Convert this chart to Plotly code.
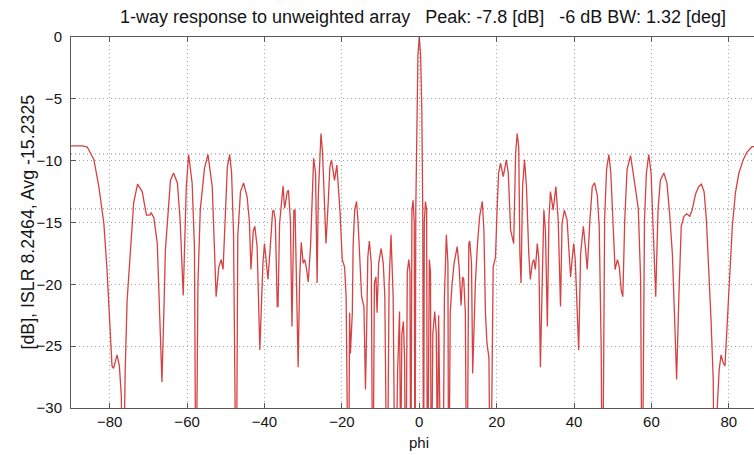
import plotly.graph_objects as go

# Angle (deg) and response (dB)
phi = [
    -90, -87, -85.8, -84.1, -82.8, -81.5, -80.7, -80.0, -79.4, -79.0, -78.1, -77.5, -77.0, -76.6,
    -76.0, -75.5, -74.6, -73.8, -72.8, -71.6, -70.5, -69.6, -69.3, -68.6, -67.7, -67.1, -66.5,
    -65.9, -65.6, -64.3, -63.5, -62.5, -61.8, -61.0, -60.2, -59.6, -58.7, -58.1, -57.7, -57.2,
    -56.6, -55.5, -54.6, -53.5, -52.9, -52.5, -51.8, -51.2, -50.7, -50.2, -49.6, -49.0, -48.5,
    -48.0, -47.3, -46.9, -46.2, -45.4, -44.5, -43.9, -43.5, -42.9, -42.5, -41.9, -41.5, -41.2,
    -40.8, -40.4, -40.0, -39.6, -39.1, -38.5, -37.9, -37.6, -37.2, -36.7, -36.5, -36.1, -35.4,
    -35.2, -34.8, -34.1, -33.8, -33.3, -32.9, -32.4, -32.1, -31.7, -31.3, -30.9, -30.5, -30.0,
    -29.6, -29.2, -28.7, -28.1, -27.5, -27.3, -26.8, -26.4, -26.1, -25.7, -25.4, -25.0, -24.5,
    -24.1, -23.5, -23.1, -22.7, -22.1, -21.9, -21.3, -20.5, -19.9, -19.3, -18.9, -18.6, -18.3,
    -18.0, -17.8, -17.3, -17.1, -16.7, -16.2, -15.8, -15.4, -14.9, -14.3, -13.9, -13.6, -13.3,
    -12.9, -12.4, -12.0, -11.6, -11.2, -10.9, -10.5, -9.85, -9.3, -8.9, -8.3, -7.8, -7.3, -6.75,
    -6.2, -5.6, -5.1, -4.8, -4.5, -4.1, -3.8, -3.5, -3.1, -2.7, -2.4, -2.2, -1.9, -1.6, -1.3,
    -1.1, -0.9, -0.66, -0.35, 0.0, 0.35, 0.66, 0.9, 1.1, 1.3, 1.6, 1.9, 2.1, 2.4, 2.6, 2.9, 3.1,
    3.5, 4.0, 4.4, 4.7, 5.0, 5.3, 5.7, 6.3, 6.5, 7.0, 7.4, 7.6, 8.0, 8.5, 9.0, 9.8, 10.3, 10.8,
    11.2, 11.5, 11.9, 12.3, 12.8, 13.05, 13.5, 13.8, 14.1, 14.5, 15.0, 15.6, 16.3, 16.7, 17.1,
    17.5, 18.0, 18.4, 19.1, 19.7, 20.1, 20.5, 21.0, 21.4, 21.7, 22.5, 23.0, 23.6, 24.0, 24.4,
    24.9, 25.3, 25.7, 26.0, 26.3, 26.7, 27.2, 27.7, 28.3, 28.7, 29.2, 29.6, 30.0, 30.5, 30.9,
    31.3, 31.8, 32.2, 32.6, 33.1, 33.5, 33.9, 34.6, 35.3, 35.9, 36.5, 36.9, 37.5, 38.2, 38.6,
    39.1, 39.5, 39.9, 40.3, 40.8, 41.2, 41.7, 42.4, 42.9, 43.4, 44.1, 44.7, 45.3, 46.0, 46.5,
    47.0, 47.35, 47.9, 48.4, 49.0, 49.5, 50.1, 50.6, 51.2, 51.7, 52.2, 52.6, 53.1, 53.7, 54.6,
    55.2, 55.8, 56.6, 57.2, 57.6, 58.2, 58.7, 59.3, 59.9, 60.6, 61.1, 61.7, 62.3, 63.2, 64.0,
    64.7, 65.4, 66.0, 66.5, 67.1, 67.7, 68.4, 69.1, 69.9, 70.5, 71.4, 72.2, 72.9, 73.6, 74.2,
    74.8, 75.4, 75.96, 76.3, 77.0, 77.5, 78.0, 78.5, 79.0, 79.6, 80.3, 80.9, 81.7, 82.6, 83.7,
    84.7, 86.0, 88.0, 90.0,
]
resp_db = [
    -8.8, -8.8, -8.9, -9.9, -12.1, -15.1, -18.8, -22.9, -26.6, -26.8, -25.7, -26.6, -29.0, -40,
    -27.0, -21.3, -17.5, -13.4, -11.9, -12.5, -14.4, -14.4, -14.2, -14.6, -16.7, -22.9, -27.9,
    -21.0, -17.2, -11.6, -11.0, -11.8, -14.8, -20.9, -12.1, -9.5, -11.8, -16.95, -40, -20.0,
    -14.0, -10.6, -9.5, -12.1, -17.5, -21.0, -18.6, -18.0, -18.8, -14.8, -10.5, -9.5, -11.0,
    -15.9, -40, -16.1, -12.5, -11.8, -12.9, -14.9, -18.8, -15.7, -15.3, -16.95, -21.0, -25.3,
    -21.8, -18.3, -16.7, -18.0, -19.6, -16.95, -14.1, -14.0, -14.8, -21.8, -21.8, -15.1, -12.2,
    -12.05, -13.85, -12.5, -12.4, -14.8, -23.4, -14.0, -14.0, -19.4, -26.7, -19.4, -16.6, -18.3,
    -18.0, -18.6, -19.8, -16.95, -10.75, -9.8, -11.0, -19.9, -12.9, -9.4, -7.8, -9.3, -13.7,
    -16.7, -13.2, -10.5, -9.94, -11.0, -11.6, -10.35, -14.0, -18.0, -18.6, -21.0, -25.6, -40,
    -22.3, -25.6, -22.3, -16.95, -14.0, -13.3, -15.06, -18.3, -21.0, -21.8, -28.5, -23.7, -17.8,
    -16.5, -18.3, -40, -19.9, -19.4, -22.3, -18.3, -17.1, -18.3, -21.0, -40, -19.9, -16.0, -21.0,
    -40, -27.0, -22.2, -35.0, -24.0, -23.0, -26.0, -40, -19.0, -18.0, -19.0, -40, -14.0, -13.2,
    -15.0, -40, -14.0, -6.0, -1.5, 0.0, -1.5, -6.0, -14.0, -40, -15.0, -13.3, -14.0, -40, -19.0,
    -18.0, -19.0, -40, -24.0, -22.2, -24.0, -35.0, -22.5, -26.0, -40, -30.0, -21.0, -16.0, -18.3,
    -40, -22.3, -19.9, -18.3, -16.95, -18.6, -21.7, -19.4, -19.6, -22.3, -40, -16.7, -16.5, -18.3,
    -27.2, -23.7, -19.9, -16.95, -14.5, -13.3, -15.6, -22.3, -24.8, -25.9, -40, -18.6, -17.8,
    -14.0, -11.0, -10.2, -11.0, -11.3, -9.94, -11.0, -15.6, -16.1, -16.7, -9.4, -7.8, -8.9,
    -17.5, -19.9, -12.1, -9.9, -12.1, -17.5, -19.6, -18.3, -18.0, -18.8, -16.7, -18.0, -26.7,
    -19.4, -14.0, -15.6, -23.4, -14.8, -12.5, -14.0, -12.1, -14.8, -21.8, -15.06, -14.0, -14.8,
    -16.95, -19.4, -18.0, -16.7, -18.0, -21.8, -25.3, -17.5, -15.3, -16.9, -18.8, -14.8, -12.1,
    -11.8, -12.8, -15.3, -25.0, -40, -14.8, -10.7, -9.5, -11.0, -14.8, -18.8, -18.0, -18.6,
    -20.5, -21.0, -14.8, -10.7, -9.6, -10.7, -12.1, -13.9, -19.6, -40, -14.8, -11.0, -9.5, -11.0,
    -16.1, -21.0, -14.0, -11.6, -11.0, -11.8, -14.3, -17.5, -22.9, -27.7, -20.8, -15.3, -14.5,
    -14.3, -14.5, -14.0, -12.7, -12.1, -11.9, -12.5, -14.8, -18.3, -22.9, -27.7, -40, -30.0,
    -26.9, -25.7, -26.3, -26.6, -22.9, -18.8, -15.3, -12.6, -11.0, -9.94, -9.3, -8.87, -8.8, -8.8,
]

x_ticks = [-80, -60, -40, -20, 0, 20, 40, 60, 80]
y_ticks = [0, -5, -10, -15, -20, -25, -30]
extra_levels = [-9.46, -13.9]

title_text = "1-way response to unweighted array   Peak: -7.8 [dB]   -6 dB BW: 1.32 [deg]"
ylabel_text = "[dB], ISLR 8.2464, Avg -15.2325"
xlabel_text = "phi"

font_family = "Liberation Sans, Arial, sans-serif"
grid_col = "rgb(165,165,165)"
axis_col = "rgb(90,90,90)"

fig = go.Figure()
fig.add_trace(go.Scatter(
    x=phi, y=resp_db, mode="lines",
    line=dict(color="rgb(214,66,66)", width=1.3),
    showlegend=False, hoverinfo="skip",
))

for lv in extra_levels:
    fig.add_shape(type="line", xref="paper", x0=0, x1=1, yref="y", y0=lv, y1=lv,
                  line=dict(color="rgb(130,130,130)", width=1, dash="1px,3px"), layer="below")

fig.update_layout(
    width=754, height=455,
    margin=dict(l=71, r=0, t=37, b=47),
    paper_bgcolor="white", plot_bgcolor="white",
    font=dict(family=font_family, size=15, color="rgb(20,20,20)"),
    title=dict(text=title_text, x=0.561, xref="container", xanchor="center",
               y=1 - 17 / 455, yref="container", yanchor="middle",
               font=dict(size=18, family=font_family, color="rgb(20,20,20)")),
    xaxis=dict(range=[-90, 86.5], tickvals=x_ticks, ticks="inside", ticklen=5,
               tickcolor=axis_col, showline=True, linecolor=axis_col,
               linewidth=1, mirror="ticks", showgrid=True, gridcolor=grid_col,
               griddash="1px,3px", gridwidth=1, zeroline=False,
               tickfont=dict(size=15, family=font_family)),
    yaxis=dict(range=[-30, 0], tickvals=y_ticks, ticks="inside", ticklen=5,
               tickcolor=axis_col, showline=True, linecolor=axis_col,
               linewidth=1, mirror=False, showgrid=True, gridcolor=grid_col,
               griddash="1px,3px", gridwidth=1, zeroline=False,
               ticklabelstandoff=5,
               tickfont=dict(size=15, family=font_family)),
    annotations=[
        dict(text=ylabel_text, xref="paper", yref="paper", x=-0.0644, y=0.5,
             xanchor="center", yanchor="middle", textangle=-90, showarrow=False,
             font=dict(size=17.8, family=font_family)),
        dict(text=xlabel_text, xref="x", yref="paper", x=0, y=-0.094,
             xanchor="center", yanchor="middle", showarrow=False,
             font=dict(size=15, family=font_family)),
    ],
)

fig.write_html("out.html")
